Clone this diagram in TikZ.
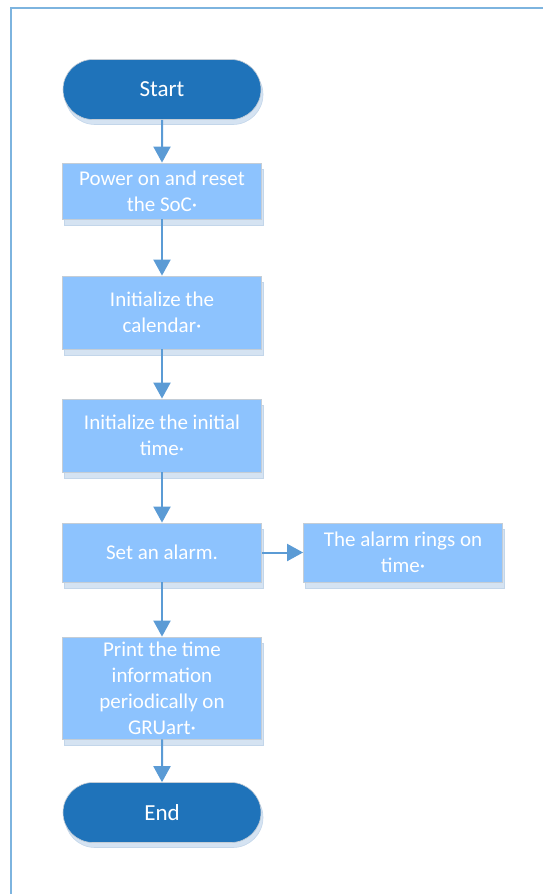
\documentclass[tikz,border=0pt]{standalone}
\usepackage{fontspec}
\setmainfont{Carlito}
\usetikzlibrary{arrows.meta,shapes.misc,shadows}
\definecolor{termblue}{HTML}{1F73BA}
\definecolor{boxblue}{HTML}{8DC3FE}
\definecolor{linkblue}{HTML}{5B9BD5}
\definecolor{shadeblue}{HTML}{D5E3F2}
\definecolor{shadeedge}{HTML}{C3D6EA}
\definecolor{edgegray}{HTML}{C4CDD6}
\definecolor{frameblue}{HTML}{7DB4DF}
\begin{document}
	\begin{tikzpicture}[x=1pt,y=1pt,
		term/.style={rounded rectangle,fill=termblue,draw=edgegray,line width=0.6pt,
			minimum width=198pt,minimum height=60pt,inner sep=0pt,text=white,
			font=\fontsize{23}{28}\selectfont,
			general shadow={fill=shadeblue,draw=shadeedge,shadow xshift=2pt,shadow yshift=-5pt}},
		proc/.style={rectangle,fill=boxblue,draw=edgegray,line width=0.8pt,
			minimum width=199pt,inner sep=0pt,align=center,text=white,
			font=\fontsize{21}{26}\selectfont,
			general shadow={fill=shadeblue,draw=shadeedge,shadow xshift=2pt,shadow yshift=-6pt}},
		flow/.style={draw=linkblue,line width=2pt,-{Triangle[width=17pt,length=16pt]}}]
		\useasboundingbox(0,0)rectangle(543,-894);
		\draw[frameblue,line width=2.5pt](560,-8)--(11,-8)--(11,-910);
		% main column
		\node[term](start)at(162,-89.5){Start};
		\node[proc,minimum height=56pt](power)at(162,-191){Power on and reset\\the SoC·};
		\node[proc,minimum height=73pt](calendar)at(162,-312.5){Initialize the\\calendar·};
		\node[proc,minimum height=73pt](inittime)at(162,-435.5){Initialize the initial\\time·};
		\node[proc,minimum height=59pt](alarm)at(162,-552.5){Set an alarm.};
		\node[proc,minimum height=59pt](ring)at(403,-552.5){The alarm rings on\\time·};
		\node[proc,minimum height=102pt](print)at(162,-688){Print the time\\information\\periodically on\\GRUart·};
		\node[term](end)at(162,-812.5){End};
		% arrows
		\draw[flow](start)--(power);
		\draw[flow](power)--(calendar);
		\draw[flow](calendar)--(inittime);
		\draw[flow](inittime)--(alarm);
		\draw[flow](alarm)--(ring);
		\draw[flow](alarm)--(print);
		\draw[flow](print)--(end);
	\end{tikzpicture}
\end{document}
